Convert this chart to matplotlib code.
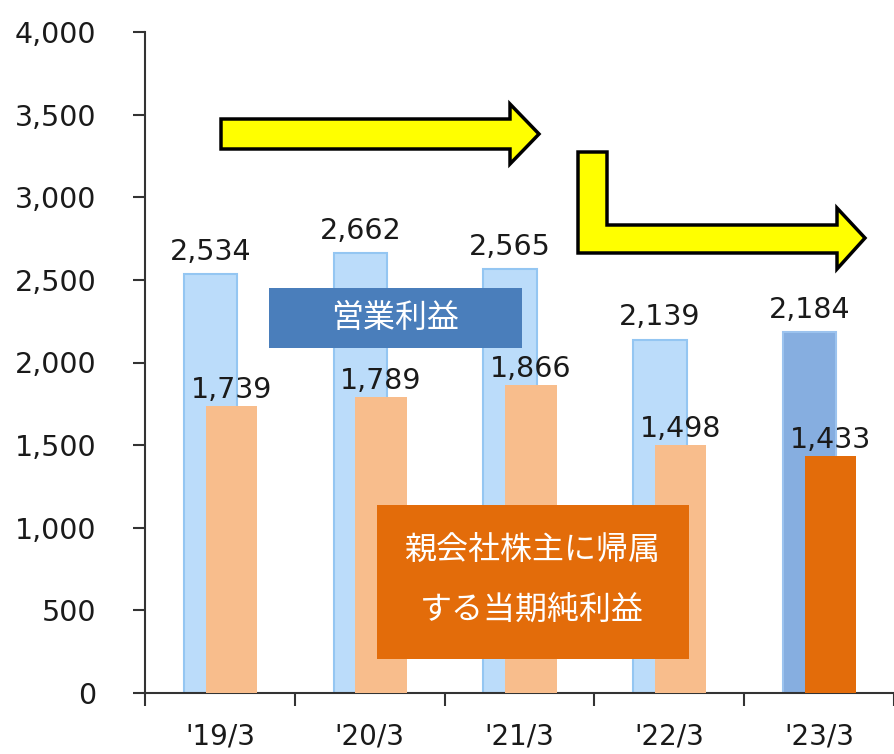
import matplotlib
matplotlib.use("Agg")
import matplotlib.pyplot as plt
from matplotlib.patches import Polygon, Rectangle
import numpy as np

plt.rcParams['font.family'] = ['DejaVu Sans', 'Noto Sans CJK JP']

categories = ["'19/3", "'20/3", "'21/3", "'22/3", "'23/3"]
op_profit = [2534, 2662, 2565, 2139, 2184]
net_profit = [1739, 1789, 1866, 1498, 1433]
yticks = [0, 500, 1000, 1500, 2000, 2500, 3000, 3500, 4000]

W, H = 894, 754
fig = plt.figure(figsize=(W / 100, H / 100), dpi=100)
ax = fig.add_axes([145 / W, (H - 693) / H, (W - 145) / W, (693 - 32) / H])

x = np.arange(len(categories))
blue_cols = ['#BBDCFA'] * 4 + ['#86AEE0']
blue_edges = ['#94C6F2'] * 4 + ['#9CC3EE']
orange_cols = ['#F8BD8C'] * 4 + ['#E36C0A']

ax.bar(x - 0.063, op_profit, width=0.357, color=blue_cols, edgecolor=blue_edges,
       linewidth=1.5, zorder=2)
ax.bar(x + 0.076, net_profit, width=0.344, color=orange_cols, edgecolor='none',
       linewidth=0, zorder=3)

for i, v in enumerate(op_profit):
    ax.annotate(f"{v:,}", (x[i] - 0.063, v), xytext=(0, 16), textcoords='offset points',
                ha='center', va='center', fontsize=20.5, color='#1a1a1a', zorder=5)
for i, v in enumerate(net_profit):
    ax.annotate(f"{v:,}", (x[i] + 0.076, v), xytext=(0, 11.5), textcoords='offset points',
                ha='center', va='center', fontsize=20.5, color='#1a1a1a', zorder=5)

ax.set_ylim(0, 4000)
ax.set_xlim(-0.5, -0.5 + (W - 145) / 151)
ax.set_yticks(yticks)
ax.set_yticklabels([f"{t:,}" for t in yticks], fontsize=20.5, color='#1a1a1a')
ax.set_xticks(np.arange(len(categories) + 1) - 0.5)
ax.set_xticklabels([])
ax.set_xticks(x, minor=True)
ax.set_xticklabels(categories, minor=True, fontsize=20, color='#1a1a1a')
ax.tick_params(axis='x', which='major', length=9, width=1.5, color='#333333', direction='out')
ax.tick_params(axis='x', which='minor', length=0, pad=21)
ax.tick_params(axis='y', length=9, width=1.5, color='#333333', direction='out', pad=26)
for s in ['top', 'right']:
    ax.spines[s].set_visible(False)
for s in ['left', 'bottom']:
    ax.spines[s].set_color('#333333')
    ax.spines[s].set_linewidth(1.5)


def px(xp, yp):
    return (xp / W, 1 - yp / H)


# label boxes
b1 = Rectangle(px(269, 348), (522 - 269) / W, (348 - 288) / H, transform=fig.transFigure,
               facecolor='#4A7EBB', edgecolor='none', zorder=10)
fig.patches.append(b1)
fig.text(*px(395, 318), "営業利益", ha='center', va='center', fontsize=23, color='white',
         family=['Noto Sans CJK JP'], zorder=11)

b2 = Rectangle(px(377, 659), (689 - 377) / W, (659 - 505) / H, transform=fig.transFigure,
               facecolor='#E36C0A', edgecolor='none', zorder=10)
fig.patches.append(b2)
fig.text(*px(532, 550), "親会社株主に帰属", ha='center', va='center', fontsize=23, color='white',
         family=['Noto Sans CJK JP'], zorder=11)
fig.text(*px(532, 610), "する当期純利益", ha='center', va='center', fontsize=23, color='white',
         family=['Noto Sans CJK JP'], zorder=11)

# yellow arrows
a1 = [(221, 119), (510, 119), (510, 104), (539, 134), (510, 164), (510, 149), (221, 149)]
fig.patches.append(Polygon([px(*p) for p in a1], closed=True, transform=fig.transFigure,
                           facecolor='#FFFF00', edgecolor='black', linewidth=2.5, zorder=10))
a2 = [(578, 152), (607, 152), (607, 225), (837, 225), (837, 208), (865, 238),
      (837, 269), (837, 253), (578, 253)]
fig.patches.append(Polygon([px(*p) for p in a2], closed=True, transform=fig.transFigure,
                           facecolor='#FFFF00', edgecolor='black', linewidth=2.5, zorder=10))

fig.savefig("out.png", dpi=100)
